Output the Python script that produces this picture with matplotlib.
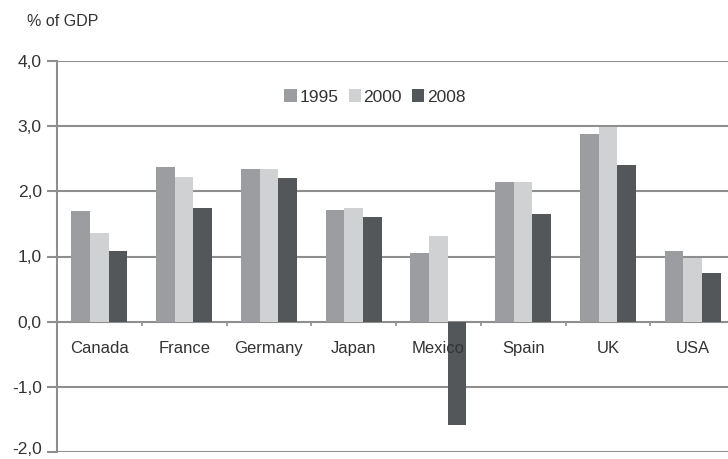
import matplotlib.pyplot as plt
import matplotlib.transforms as mtransforms
import numpy as np

countries = ['Canada', 'France', 'Germany', 'Japan', 'Mexico', 'Spain', 'UK', 'USA']
years = ['1995', '2000', '2008']
v1995 = [1.70, 2.38, 2.35, 1.72, 1.05, 2.15, 2.88, 1.08]
v2000 = [1.36, 2.22, 2.35, 1.75, 1.32, 2.15, 2.99, 0.97]
v2008 = [1.09, 1.75, 2.20, 1.60, -1.58, 1.65, 2.40, 0.75]
yticks = [-2, -1, 0, 1, 2, 3, 4]
ytick_labels = ['-2,0', '-1,0', '0,0', '1,0', '2,0', '3,0', '4,0']

colors = ['#9c9da0', '#d0d1d3', '#54575a']
grid_col = '#8e8e8e'
text_col = '#333333'

plt.rcParams['font.family'] = ['Liberation Sans', 'DejaVu Sans']

fig = plt.figure(figsize=(7.28, 4.59), dpi=100)
# axes runs past the right edge, as in the reference
ax = fig.add_axes([57 / 728, 7 / 459, 678 / 728, 391 / 459])

x = np.arange(len(countries))
w = 0.22
for i, (vals, lab) in enumerate(zip([v1995, v2000, v2008], years)):
    ax.bar(x + (i - 1) * w, vals, width=w, color=colors[i], label=lab, zorder=3)

ax.set_xlim(-0.5, len(countries) - 0.5)
ax.set_ylim(-2, 4)
ax.set_yticks(yticks)
ax.set_yticklabels(ytick_labels, fontsize=12.5, color=text_col)
ax.tick_params(axis='y', length=7, width=1.5, color=grid_col, pad=4)
ax.set_xticks([])
for y in yticks:
    ax.axhline(y, color=grid_col, lw=1.5, zorder=1)

# nudge the bottom label up so it is not clipped by the figure edge
lbl = ax.get_yticklabels()[0]
lbl.set_transform(lbl.get_transform() + mtransforms.ScaledTranslation(0, 3 / 72, fig.dpi_scale_trans))

for s in ['top', 'right', 'bottom']:
    ax.spines[s].set_visible(False)
ax.spines['left'].set_color(grid_col)
ax.spines['left'].set_linewidth(1.5)

# small ticks on the zero line between countries
ax.vlines(x[:-1] + 0.5, -0.07, 0, color=grid_col, lw=1.2, zorder=2)

for xi, c in zip(x, countries):
    ax.text(xi, -0.41, c, ha='center', va='center', fontsize=12, color=text_col, zorder=4)

ax.legend(loc='center', bbox_to_anchor=(0.469, 0.908), ncol=3, frameon=False,
          handlelength=0.7, handleheight=0.7, handletextpad=0.15, columnspacing=0.6,
          fontsize=12.5, labelcolor=text_col)

fig.text(27 / 728, 1 - 22 / 459, '% of GDP', fontsize=11.5, color=text_col, va='center')

fig.savefig('out.png', dpi=100)
